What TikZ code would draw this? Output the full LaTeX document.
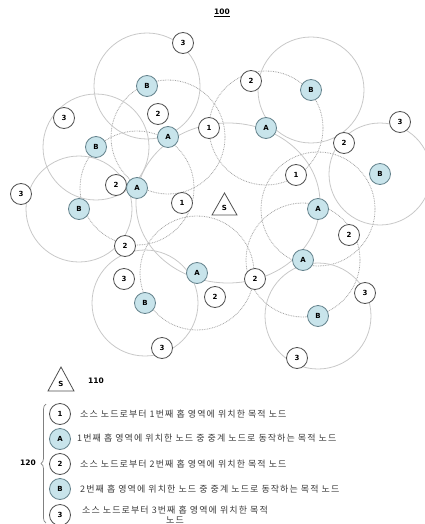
\documentclass[tikz,border=0pt]{standalone}
\usepackage{fontspec}
\setmainfont{DejaVu Sans}
\newfontfamily\kr[LetterSpace=12]{Noto Sans CJK KR}
\usetikzlibrary{decorations.pathreplacing,backgrounds}
\definecolor{ring}{RGB}{200,200,200}
\definecolor{dring}{RGB}{165,165,165}
\definecolor{nodeedge}{RGB}{80,80,80}
\definecolor{relayfill}{RGB}{200,228,235}
\definecolor{relayedge}{RGB}{100,130,140}
\definecolor{legtext}{RGB}{60,60,60}
\begin{document}
\begin{tikzpicture}[x=1pt,y=-1pt,
  dest/.style={circle,draw=nodeedge,fill=white,line width=0.8pt,minimum size=21pt,inner sep=0pt,font=\bfseries\fontsize{7}{8}\selectfont},
  relay/.style={dest,fill=relayfill,draw=relayedge},
  srange/.style={draw=ring,line width=0.8pt},
  drange/.style={draw=dring,line width=0.8pt,dash pattern=on 0.8pt off 0.9pt},
  tri/.style={draw=nodeedge,line width=0.8pt,line join=miter},
  tlabel/.style={inner sep=0pt,font=\bfseries\fontsize{7}{8}\selectfont},
  num/.style={inner sep=0pt,font=\bfseries\fontsize{7.5}{9}\selectfont},
  legtxt/.style={anchor=west,inner sep=0pt,text=legtext,font=\kr\fontsize{9}{10}\selectfont}]
\useasboundingbox (0,0) rectangle (424,524);

\node[num] (title) at (222,13) {\underline{100}};

% 3-hop destinations
\node[dest] (t3a) at (183,43) {3};
\node[dest] (t3b) at (64,118) {3};
\node[dest] (t3c) at (400,122) {3};
\node[dest] (t3d) at (21,194) {3};
\node[dest] (t3e) at (124,279) {3};
\node[dest] (t3f) at (365,293) {3};
\node[dest] (t3g) at (162,348) {3};
\node[dest] (t3h) at (297,358) {3};
% 2-hop destinations
\node[dest] (t2a) at (251,81) {2};
\node[dest] (t2b) at (158,114) {2};
\node[dest] (t2c) at (344,143) {2};
\node[dest] (t2d) at (116,185) {2};
\node[dest] (t2e) at (349,235) {2};
\node[dest] (t2f) at (125,246) {2};
\node[dest] (t2g) at (255,279) {2};
\node[dest] (t2h) at (215,297) {2};
% 1-hop destinations
\node[dest] (t1a) at (209,128) {1};
\node[dest] (t1b) at (296,175) {1};
\node[dest] (t1c) at (182,203) {1};
% 1-hop relays
\node[relay] (Aa) at (168,137) {A};
\node[relay] (Ab) at (266,128) {A};
\node[relay] (Ac) at (137,188) {A};
\node[relay] (Ad) at (318,209) {A};
\node[relay] (Ae) at (303,260) {A};
\node[relay] (Af) at (197,273) {A};
% 2-hop relays
\node[relay] (Ba) at (147,86) {B};
\node[relay] (Bb) at (311,90) {B};
\node[relay] (Bc) at (96,147) {B};
\node[relay] (Bd) at (380,174) {B};
\node[relay] (Be) at (79,209) {B};
\node[relay] (Bf) at (145,303) {B};
\node[relay] (Bg) at (318,316) {B};

% source
\coordinate (s1) at (224.5,193);
\coordinate (s2) at (212,215);
\coordinate (s3) at (237,215);
\draw[tri] (s1) -- (s2) -- (s3) -- cycle;
\node[tlabel] (src) at (224.5,208) {S};

\begin{scope}[on background layer]
  \coordinate (sc) at (228,203);
  \draw[srange] (sc) ellipse [x radius=92pt, y radius=80pt];
  \foreach \n in {Aa,Ab,Ac,Ad,Ae,Af}
    \draw[drange] (\n.center) circle [radius=57pt];
  \foreach \n in {Ba,Bb,Bc,Be,Bf,Bg}
    \draw[srange] (\n.center) circle [radius=53pt];
  \draw[srange] (Bd.center) circle [radius=51pt];
\end{scope}

% legend
\coordinate (l1) at (61,367);
\coordinate (l2) at (48,391);
\coordinate (l3) at (74,391);
\draw[tri] (l1) -- (l2) -- (l3) -- cycle;
\node[tlabel] (lsrc) at (61,384) {S};
\node[num] (n110) at (96,381) {110};

\node[dest] (L1) at (60,414) {1};
\node[relay] (LA) at (60,439) {A};
\node[dest] (L2) at (60,464) {2};
\node[relay] (LB) at (60,489) {B};
\node[dest] (L3) at (60,515) {3};

\node[legtxt] (T1) at (80,414) {소스 노드로부터 1번째 홉 영역에 위치한 목적 노드};
\node[legtxt] (TA) at (77,438) {1번째 홉 영역에 위치한 노드 중 중계 노드로 동작하는 목적 노드};
\node[legtxt] (T2) at (80,464) {소스 노드로부터 2번째 홉 영역에 위치한 목적 노드};
\node[legtxt] (TB) at (80,489) {2번째 홉 영역에 위치한 노드 중 중계 노드로 동작하는 목적 노드};
\node[legtxt,anchor=center,align=center] (T3) at (175,515) {소스 노드로부터 3번째 홉 영역에 위치한 목적\\노드};

\coordinate (bb) at (46,523);
\coordinate (bt) at (46,404);
\draw[decorate,decoration={brace,amplitude=5pt},draw=gray,line width=0.7pt] (bb) -- (bt);
\node[num] (n120) at (28,463) {120};
\end{tikzpicture}
\end{document}
